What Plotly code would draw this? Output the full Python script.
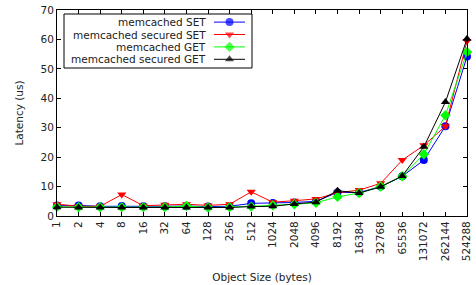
import plotly.graph_objects as go

sizes = ["1", "2", "4", "8", "16", "32", "64", "128", "256", "512", "1024",
         "2048", "4096", "8192", "16384", "32768", "65536", "131072", "262144", "524288"]

memcached_set = [3.6, 3.6, 3.3, 3.4, 3.3, 3.3, 3.4, 3.2, 3.3, 4.3, 4.4,
                 4.6, 5.0, 8.0, 8.0, 10.0, 13.5, 19.0, 30.5, 54.2]
secured_set = [4.0, 3.3, 3.3, 7.3, 3.5, 3.8, 4.0, 3.6, 4.0, 8.2, 4.7,
               5.2, 5.8, 7.9, 8.8, 11.1, 19.0, 24.0, 30.5, 59.5]
memcached_get = [3.1, 3.0, 3.0, 3.0, 3.0, 3.0, 3.4, 2.9, 3.0, 3.2, 3.6,
                 4.0, 4.5, 6.5, 7.8, 10.0, 13.5, 21.0, 34.2, 55.7]
secured_get = [3.0, 2.9, 2.9, 2.9, 2.9, 2.9, 2.9, 2.9, 2.9, 3.2, 3.3,
               4.1, 4.7, 8.6, 7.8, 9.9, 13.6, 23.5, 38.7, 60.2]

series_names = ["memcached SET", "memcached secured SET", "memcached GET", "memcached secured GET"]
series_values = [memcached_set, secured_set, memcached_get, secured_get]
series_colors = ["#0000ff", "#ff0000", "#00ff00", "#000000"]
series_symbols = ["circle", "triangle-down", "diamond", "triangle-up"]

W, H = 476, 285
L, R, T, B = 57, 9, 10, 69
pw, ph = W - L - R, H - T - B

def px_x(p):
    return (p - L) / pw

def px_y(p):
    return (H - B - p) / ph

font = dict(family="DejaVu Sans", size=10.5, color="#222222")

fig = go.Figure()
for name, vals, color, sym in zip(series_names, series_values, series_colors, series_symbols):
    fig.add_trace(go.Scatter(
        x=sizes, y=vals, mode="lines+markers", name=name,
        line=dict(color=color, width=1),
        marker=dict(symbol=sym, size=8, color=color, line=dict(width=0)),
        cliponaxis=False, showlegend=False,
    ))

# custom legend (symbols on the right of the text)
for i, (name, color, sym) in enumerate(zip(series_names, series_colors, series_symbols)):
    fig.add_trace(go.Scatter(
        x=[0, 0.5, 1], y=[i, i, i], mode="lines+markers",
        line=dict(color=color, width=1),
        marker=dict(symbol=sym, size=[0, 8, 0], color=color, line=dict(width=0)),
        xaxis="x2", yaxis="y2", showlegend=False, hoverinfo="skip", cliponaxis=False,
    ))
    fig.add_annotation(text=name, xref="paper", yref="y2", x=px_x(208), y=i,
                       xanchor="right", yanchor="middle", showarrow=False, font=font)

fig.add_shape(type="rect", xref="paper", yref="paper",
              x0=px_x(64), x1=px_x(252), y0=px_y(68), y1=px_y(14),
              line=dict(color="black", width=1), fillcolor="white", layer="below")

fig.update_layout(
    width=W, height=H,
    margin=dict(l=L, r=R, t=T, b=B),
    paper_bgcolor="white", plot_bgcolor="white",
    font=font,
    xaxis=dict(type="category", range=[0, len(sizes) - 1], tickangle=-90, automargin=False,
               showline=True, linecolor="black", linewidth=1, mirror="ticks",
               ticks="inside", ticklen=4, tickcolor="black", showgrid=False, zeroline=False,
               title=dict(text="Object Size (bytes)", font=font, standoff=13),
               tickfont=font),
    yaxis=dict(range=[0, 70], dtick=10, automargin=False,
               showline=True, linecolor="black", linewidth=1, mirror="ticks",
               ticks="inside", ticklen=4, tickcolor="black", showgrid=False, zeroline=False,
               title=dict(text="Latency (us)", font=font, standoff=14),
               tickfont=font),
    xaxis2=dict(domain=[px_x(214), px_x(245)], range=[0, 1], visible=False, anchor="y2"),
    yaxis2=dict(domain=[px_y(65.5), px_y(15.9)], range=[3.5, -0.5], visible=False, anchor="x2"),
)

fig.write_html("out.html", config={"displayModeBar": False},
               post_script="document.body.style.margin='0';document.body.style.overflow='hidden';")
